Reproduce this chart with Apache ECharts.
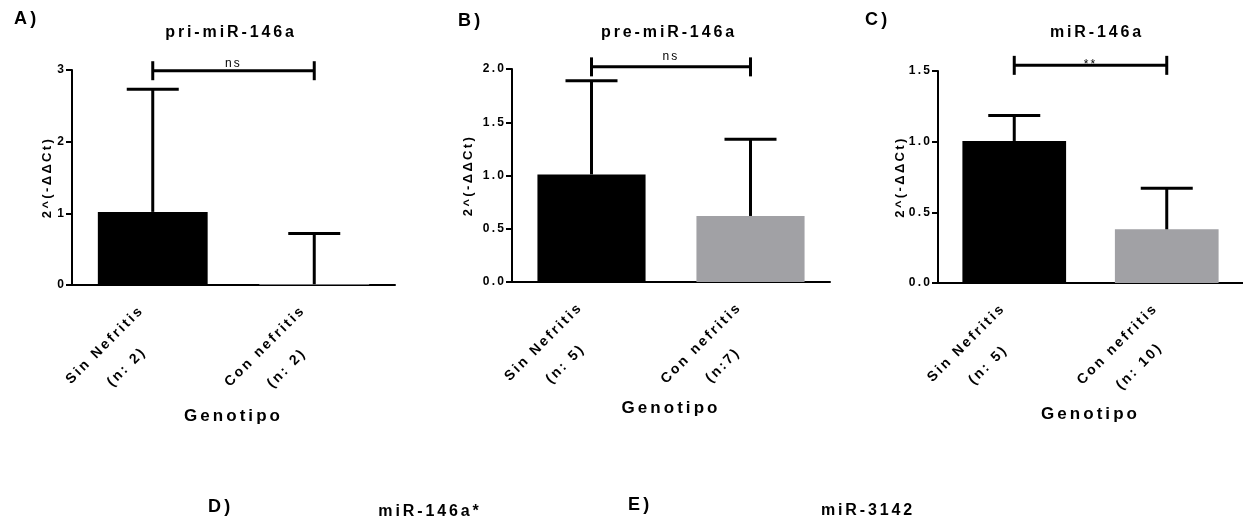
<!DOCTYPE html>
<html>
<head>
<meta charset="utf-8">
<script src="https://cdn.jsdelivr.net/npm/echarts@6/dist/echarts.min.js"></script>
<style>
  html, body { margin: 0; padding: 0; background: #fff; }
  #main { width: 1243px; height: 524px; }
</style>
</head>
<body>
<div id="main"></div>
<script>
// datos
var catsA = ['Sin Nefritis\n(n: 2)', 'Con nefritis\n(n: 2)'];
var meanA = [1.02, 0.01];
var sdA = [1.71, 0.71];

var catsB = ['Sin Nefritis\n(n: 5)', 'Con nefritis\n(n:7)'];
var meanB = [1.01, 0.62];
var sdB = [0.88, 0.72];

var catsC = ['Sin Nefritis\n(n: 5)', 'Con nefritis\n(n: 10)'];
var meanC = [1.005, 0.38];
var sdC = [0.18, 0.29];

var titles = ['pri-miR-146a', 'pre-miR-146a', 'miR-146a'];
var letters = ['A)', 'B)', 'C)'];
var sigLabels = ['ns', 'ns', '**'];
var sigY = [2.99, 2.02, 1.54];
var yMax = [3, 2, 1.5];
var yStep = [1, 0.5, 0.5];
var yDecimals = [0, 1, 1];
var barColors = ['#000000', '#a1a1a5'];

// GraphPad usa letras espaciadas: se aplica letterSpacing al contexto canvas
(function () {
  var proto = CanvasRenderingContext2D.prototype;
  var d = Object.getOwnPropertyDescriptor(proto, 'font');
  if (!d || !('letterSpacing' in proto)) return;
  Object.defineProperty(proto, 'font', {
    configurable: true,
    get: function () { return d.get.call(this); },
    set: function (v) {
      d.set.call(this, v);
      var m = /(\d+(?:\.\d+)?)px/.exec(v);
      this.letterSpacing = m ? (parseFloat(m[1]) * 0.18).toFixed(2) + 'px' : '0px';
    }
  });
})();

var FONT = '"Liberation Sans", Arial, sans-serif';

var panels = [
  { cats: catsA, mean: meanA, sd: sdA, grid: { left: 72, top: 70, width: 323, height: 215 }, nameGap: 17, genGap: 121, sigGap: 0 },
  { cats: catsB, mean: meanB, sd: sdB, grid: { left: 512, top: 69, width: 318, height: 213 }, nameGap: 36, genGap: 116, sigGap: 3 },
  { cats: catsC, mean: meanC, sd: sdC, grid: { left: 938, top: 71, width: 320, height: 212 }, nameGap: 30, genGap: 121, sigGap: -6 }
];

function errorItem(params, api) {
  var base = api.coord([api.value(0), api.value(1)]);
  var top = api.coord([api.value(0), api.value(1) + api.value(2)]);
  var half = 26;
  var st = { stroke: '#000', lineWidth: 3 };
  return {
    type: 'group',
    children: [
      { type: 'line', shape: { x1: base[0], y1: base[1], x2: top[0], y2: top[1] }, style: st },
      { type: 'line', shape: { x1: top[0] - half, y1: top[1], x2: top[0] + half, y2: top[1] }, style: st }
    ]
  };
}

function bracketItem(label, gap) {
  return function (params, api) {
    var p1 = api.coord([api.value(0), api.value(1)]);
    var p2 = api.coord([api.value(2), api.value(1)]);
    var h = 9.5;
    var st = { stroke: '#000', lineWidth: 3 };
    return {
      type: 'group',
      children: [
        { type: 'line', shape: { x1: p1[0], y1: p1[1], x2: p2[0], y2: p2[1] }, style: st },
        { type: 'line', shape: { x1: p1[0], y1: p1[1] - h, x2: p1[0], y2: p1[1] + h }, style: st },
        { type: 'line', shape: { x1: p2[0], y1: p2[1] - h, x2: p2[0], y2: p2[1] + h }, style: st },
        {
          type: 'text', x: (p1[0] + p2[0]) / 2, y: p1[1] - gap,
          style: { text: label, align: 'center', verticalAlign: 'bottom', font: '12px ' + FONT, fill: '#000' }
        }
      ]
    };
  };
}

var grids = [], xAxes = [], yAxes = [], series = [], graphics = [];

panels.forEach(function (p, i) {
  grids.push(p.grid);
  xAxes.push({
    type: 'category',
    gridIndex: i,
    data: p.cats,
    name: 'Genotipo',
    nameLocation: 'middle',
    nameGap: p.genGap,
    nameMoveOverlap: false,
    nameTextStyle: { fontFamily: FONT, fontWeight: 'bold', fontSize: 17, color: '#000' },
    axisLine: { lineStyle: { color: '#000', width: 2 } },
    axisTick: { alignWithLabel: true, length: 7, lineStyle: { color: '#000', width: 2 } },
    axisLabel: {
      interval: 0,
      rotate: 45,
      margin: 34,
      formatter: function (v) {
        return v.split('\n').map(function (s) { return '{c|' + s + '}'; }).join('\n');
      },
      rich: {
        c: { fontFamily: FONT, fontWeight: 'bold', fontSize: 14, lineHeight: 31, color: '#000', align: 'center' }
      }
    },
    splitLine: { show: false }
  });
  yAxes.push({
    type: 'value',
    gridIndex: i,
    min: 0,
    max: yMax[i],
    interval: yStep[i],
    name: '2^(-ΔΔCt)',
    nameLocation: 'middle',
    nameGap: p.nameGap,
    nameMoveOverlap: false,
    nameTextStyle: { fontFamily: FONT, fontWeight: 'bold', fontSize: 13, color: '#000' },
    axisLine: { show: true, lineStyle: { color: '#000', width: 2 } },
    axisTick: { show: true, length: 6, lineStyle: { color: '#000', width: 2 } },
    axisLabel: {
      margin: 6,
      fontFamily: FONT, fontWeight: 'bold', fontSize: 12, color: '#000',
      formatter: function (v) { return v.toFixed(yDecimals[i]); }
    },
    splitLine: { show: false }
  });
  series.push({
    type: 'bar',
    xAxisIndex: i,
    yAxisIndex: i,
    barWidth: '68%',
    data: p.mean,
    itemStyle: { color: function (d) { return barColors[d.dataIndex]; } },
    silent: true
  });
  series.push({
    type: 'custom',
    xAxisIndex: i,
    yAxisIndex: i,
    renderItem: errorItem,
    encode: { x: 0, y: 1 },
    data: p.mean.map(function (m, k) { return [k, m, p.sd[k]]; }),
    z: 5,
    silent: true
  });
  series.push({
    type: 'custom',
    xAxisIndex: i,
    yAxisIndex: i,
    renderItem: bracketItem(sigLabels[i], p.sigGap),
    encode: { x: 0, y: 1 },
    data: [[0, sigY[i], 1]],
    z: 6,
    silent: true
  });
});

// letras de panel y titulos
var titleX = [231, 669, 1097];
var letterX = [14, 458, 865];
var letterY = [19, 21, 20];
titles.forEach(function (t, i) {
  graphics.push({ type: 'text', x: titleX[i], y: 33, style: { text: t, align: 'center', verticalAlign: 'middle', font: 'bold 16px ' + FONT, fill: '#000' } });
  graphics.push({ type: 'text', x: letterX[i], y: letterY[i], style: { text: letters[i], align: 'left', verticalAlign: 'middle', font: 'bold 18px ' + FONT, fill: '#000' } });
});
// paneles inferiores (cortados)
graphics.push({ type: 'text', x: 208, y: 507, style: { text: 'D)', align: 'left', verticalAlign: 'middle', font: 'bold 18px ' + FONT, fill: '#000' } });
graphics.push({ type: 'text', x: 430, y: 512, style: { text: 'miR-146a*', align: 'center', verticalAlign: 'middle', font: 'bold 16px ' + FONT, fill: '#000' } });
graphics.push({ type: 'text', x: 628, y: 505, style: { text: 'E)', align: 'left', verticalAlign: 'middle', font: 'bold 18px ' + FONT, fill: '#000' } });
graphics.push({ type: 'text', x: 868, y: 511, style: { text: 'miR-3142', align: 'center', verticalAlign: 'middle', font: 'bold 16px ' + FONT, fill: '#000' } });

var myChart = echarts.init(document.getElementById('main'));
myChart.setOption({
  animation: false,
  backgroundColor: '#fff',
  grid: grids,
  xAxis: xAxes,
  yAxis: yAxes,
  series: series,
  graphic: graphics
});
</script>
</body>
</html>
